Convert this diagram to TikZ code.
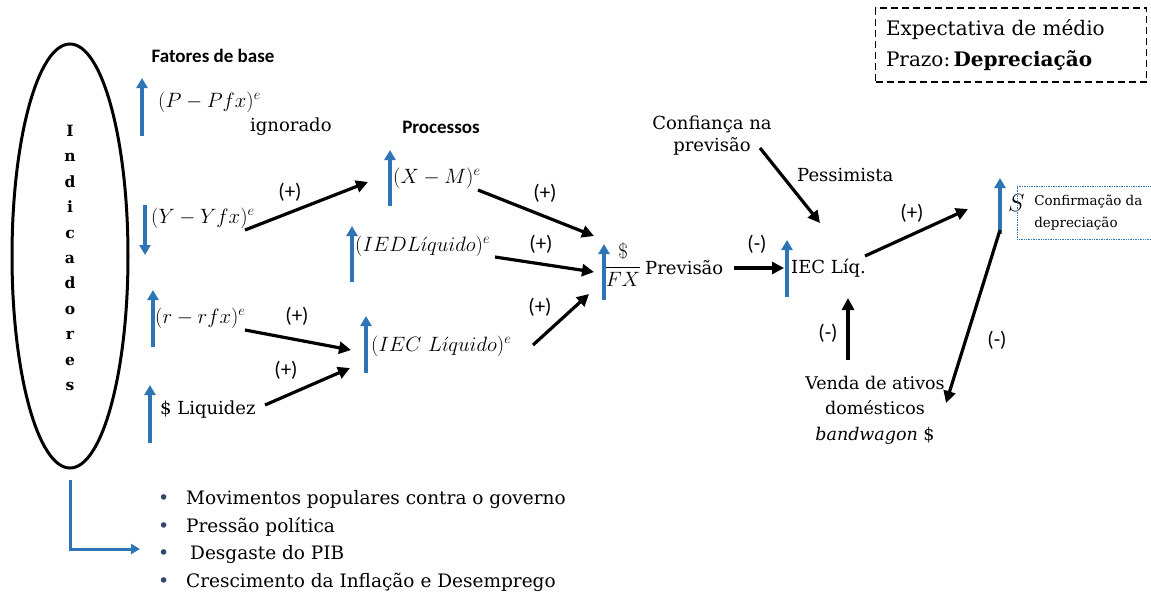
\documentclass[tikz,border=0pt]{standalone}
\usepackage{fontspec}
\setmainfont{DejaVu Serif}
\newfontfamily\calibri{Carlito}
\usetikzlibrary{arrows.meta,calc,shapes.geometric}
\definecolor{ablue}{RGB}{46,117,182}
\definecolor{bulletc}{RGB}{50,70,110}
\tikzset{
  txt/.style={inner sep=0pt, font=\fontsize{18}{22}\selectfont},
  mth/.style={inner sep=0pt, font=\fontsize{21}{24}\selectfont},
  head/.style={inner sep=0pt, font=\calibri\bfseries\fontsize{19}{20}\selectfont},
  sign/.style={inner sep=0pt, font=\calibri\fontsize{21}{22}\selectfont},
  up/.style={draw=ablue, line width=4pt, -{Triangle[length=10pt,width=11pt]}},
  conn/.style={draw=black, line width=3.2pt, -{Triangle[length=12pt,width=12pt]}},
}
\newcommand{\listdot}{\makebox[28pt][l]{\textcolor{bulletc}{\fontsize{19}{19}\selectfont\textbullet}}}
\begin{document}
\begin{tikzpicture}[x=1pt,y=-1pt]
\useasboundingbox (0,0) rectangle (1151,598);

% indicators ellipse with vertical lettering
\node[draw, ellipse, line width=3pt, minimum width=116pt, minimum height=424pt, inner sep=0pt] (ind) at (70,256) {};
\node[inner sep=0pt, align=center, font=\bfseries\fontsize{15.5}{25.4}\selectfont] (word) at (70,258)
  {I\\n\\d\\i\\c\\a\\d\\o\\r\\e\\s};

% consequences list
\node[inner sep=0pt, anchor=west, align=left, font=\fontsize{18.5}{27.7}\selectfont] (list) at (158,541)
  {\listdot Movimentos populares contra o governo\\
   \listdot Pressão política\\
   \listdot\hspace{4pt}Desgaste do PIB\\
   \listdot Crescimento da Inflação e Desemprego};
\draw[draw=ablue, line width=3pt, -{Triangle[length=9pt,width=10pt]}]
  ($(ind.south)+(0,10)$) |- ($(list.west)+(-18,8)$);

% headings
\node[head] (hbase) at (213,56) {Fatores de base};
\node[head] (hproc) at (441,127) {Processos};

% base factors
\node[mth, anchor=west] (pp) at (158,102) {$(P-Pfx)^e$};
\node[txt, anchor=west] (ign) at (250,127) {ignorado};
\node[mth, anchor=west] (yy) at (151,218) {$(Y-Yfx)^e$};
\node[mth, anchor=west] (rr) at (155,318) {$(r-rfx)^e$};
\node[txt, anchor=west] (liq) at (160,410) {\$ Liquidez};

% processes
\node[mth, anchor=west] (xm) at (393,178) {$(X-M)^e$};
\node[mth, anchor=west] (ied) at (355,246) {$(IEDL\acute{\imath}quido)^e$};
\node[mth, anchor=west] (iec) at (371,346) {$(IEC\ L\acute{\imath}quido)^e$};

% forecast chain
\node[mth] (fx) at (623,265) {$\displaystyle\frac{\mathrm{\$}}{FX}$};
\node[txt, anchor=west] (prev) at (645,268) {Previsão};
\node[txt, anchor=west] (iecl) at (791,268) {IEC Líq.};
\node[inner sep=0pt, anchor=west, font=\fontsize{32}{34}\selectfont] (S) at (1008,203) {$S$};
\node[txt, align=center] (conf) at (712,136) {Confiança na\\previsão};
\node[txt, anchor=west] (pess) at (797,175) {Pessimista};
\node[txt, align=center, font=\fontsize{17.5}{25.5}\selectfont] (venda) at (875,410)
  {Venda de ativos\\domésticos\\\textit{bandwagon} \$};

% notes
\node[draw=ablue, densely dotted, line width=0.7pt, anchor=west, minimum width=136pt, minimum height=53pt,
      inner sep=0pt, font=\fontsize{13.5}{22}\selectfont, align=left] (confirm) at (1017,213)
  {\hspace{6pt}Confirmação da\\\hspace{6pt}depreciação\hspace{14pt}};
\node[draw, dash pattern=on 7pt off 4pt, line width=1.4pt, minimum width=271pt, minimum height=74pt, inner sep=0pt,
      align=left, font=\fontsize{20}{31}\selectfont] (expect) at (1011,45)
  {\makebox[250pt][l]{Expectativa de médio}\\\makebox[250pt][l]{Prazo:\,\textbf{Depreciação}}};

% blue indicator arrows
\draw[up] (142,136) -- (142,78);
\draw[up] (145,205) -- (145,255);
\draw[up] (153,347) -- (153,290);
\draw[up] (150,443) -- (150,385);
\draw[up] (390,206) -- (390,150);
\draw[up] (352,282) -- (352,226);
\draw[up] (366,373) -- (366,316);
\draw[up] (604,300) -- (604,244);
\draw[up] (787,297) -- (787,240);
\draw[up] (1000,234) -- (1000,178);

% causal connectors
\draw[conn] ($(yy.west)+(94,12)$) -- ($(xm.west)+(-25,4)$);
\draw[conn] ($(xm.west)+(85,12)$) -- ($(fx.center)+(-29,-29)$);
\draw[conn] ($(ied.west)+(140,11)$) -- ($(fx.center)+(-29,7)$);
\draw[conn] ($(iec.west)+(162,-1)$) -- ($(fx.center)+(-34,29)$);
\draw[conn] ($(rr.west)+(90,12)$) -- ($(iec.west)+(-20,4)$);
\draw[conn] ($(liq.west)+(105,-5)$) -- ($(iec.west)+(-21,22)$);
\draw[conn] ($(prev.west)+(89,0)$) -- ($(iecl.west)+(-7,0)$);
\draw[conn] ($(conf.center)+(48,12)$) -- ($(iecl.west)+(29,-45)$);
\draw[conn] ($(iecl.west)+(74,-12)$) -- ($(S.west)+(-40,6)$);
\draw[conn] ($(venda.center)+(-27,-50)$) -- ($(iecl.west)+(57,30)$);
\draw[conn] ($(S.west)+(-8,27)$) -- ($(venda.center)+(71,-7)$);

% signs
\node[sign] (s1) at (290,192) {(+)};
\node[sign] (s2) at (545,193) {(+)};
\node[sign] (s3) at (541,244) {(+)};
\node[sign] (s4) at (540,307) {(+)};
\node[sign] (s5) at (297,316) {(+)};
\node[sign] (s6) at (286,370) {(+)};
\node[sign] (s7) at (757,244) {(-)};
\node[sign] (s8) at (912,213) {(+)};
\node[sign] (s9) at (828,333) {(-)};
\node[sign] (s10) at (997,340) {(-)};
\end{tikzpicture}
\end{document}
